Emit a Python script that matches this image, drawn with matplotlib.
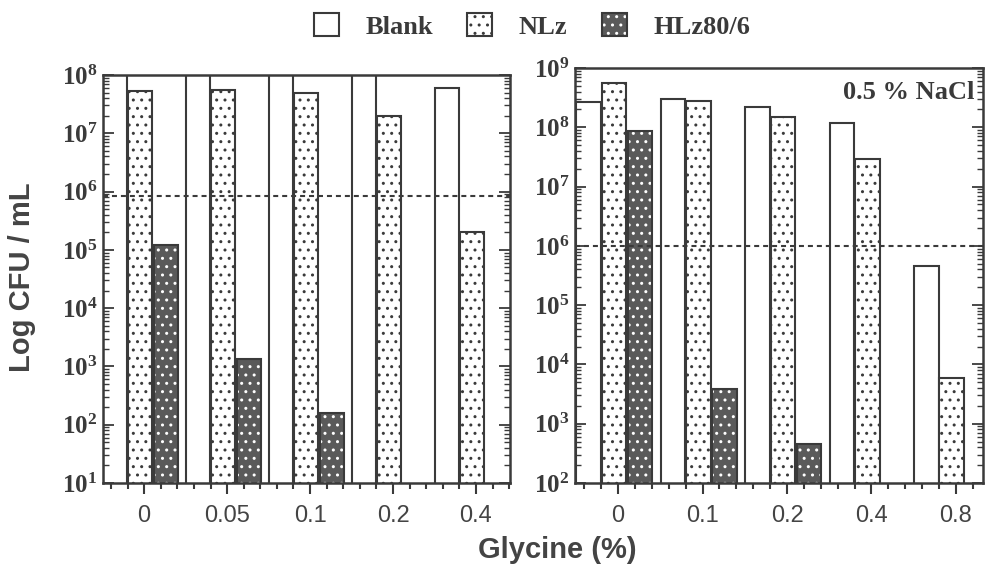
import numpy as np
import matplotlib
matplotlib.use("Agg")
import matplotlib.pyplot as plt
from matplotlib.patches import Patch
from matplotlib.ticker import FixedLocator, AutoMinorLocator, LogLocator, FuncFormatter, NullFormatter

plt.rcParams['mathtext.fontset'] = 'custom'
plt.rcParams['mathtext.rm'] = 'Liberation Serif:bold'
plt.rcParams['mathtext.bf'] = 'Liberation Serif:bold'
plt.rcParams['hatch.linewidth'] = 1.0

# data (CFU / mL); None = no bar
left_groups = ['0', '0.05', '0.1', '0.2', '0.4']
left_blank = [2.5e8, 2.5e8, 2.5e8, 2.5e8, 6.0e7]
left_nlz = [5.4e7, 5.6e7, 4.9e7, 2.0e7, 2.0e5]
left_hlz = [1.2e5, 1.35e3, 1.6e2, None, None]
left_limit = 8.5e5

right_groups = ['0', '0.1', '0.2', '0.4', '0.8']
right_blank = [2.7e8, 3.0e8, 2.2e8, 1.2e8, 4.6e5]
right_nlz = [5.6e8, 2.8e8, 1.5e8, 2.9e7, 6.0e3]
right_hlz = [8.5e7, 3.8e3, 4.6e2, None, None]
right_limit = 1.0e6

series_names = ['Blank', 'NLz', 'HLz80/6']

ink = '#3a3a3a'
dark = '#5a5a5a'
w = 0.29


def draw(ax, groups, blank, nlz, hlz, limit, ylo, yhi, xlim):
    x = np.arange(len(groups))
    ax.bar(x - 0.3, blank, w, facecolor='white', edgecolor=ink, linewidth=1.5)
    ax.bar(x, nlz, w, facecolor='white', edgecolor=ink, linewidth=1.5, hatch='..')
    hx = np.array([xi for xi, v in zip(x, hlz) if v is not None])
    hv = [v for v in hlz if v is not None]
    ax.bar(hx + 0.31, hv, w, facecolor=dark, edgecolor='white', linewidth=0, hatch='..')
    ax.bar(hx + 0.31, hv, w, fill=False, edgecolor=ink, linewidth=1.5)
    ax.axhline(limit, ls=(0, (2.4, 1.9)), lw=1.5, color=ink, zorder=3)

    ax.set_yscale('log')
    ax.set_ylim(ylo, yhi)
    ax.set_xlim(*xlim)
    ax.yaxis.set_major_locator(LogLocator(base=10, numticks=20))
    ax.yaxis.set_minor_locator(LogLocator(base=10, subs=np.arange(2, 10), numticks=100))
    ax.yaxis.set_minor_formatter(NullFormatter())
    ax.yaxis.set_major_formatter(FuncFormatter(
        lambda v, p: r'$\mathbf{10^{%d}}$' % int(round(np.log10(v)))))
    ax.tick_params(axis='y', which='both', direction='in', left=True, right=True,
                   colors=ink, labelsize=18, pad=4, width=1.3)
    ax.tick_params(axis='y', which='major', length=8)
    ax.tick_params(axis='y', which='minor', length=4, width=1.0)

    ax.xaxis.set_major_locator(FixedLocator(x + 0.05))
    ax.set_xticklabels(groups)
    ax.xaxis.set_minor_locator(AutoMinorLocator(5))
    ax.tick_params(axis='x', which='both', direction='out', colors=ink, width=1.5)
    ax.tick_params(axis='x', which='major', length=8, labelsize=17, pad=8)
    ax.tick_params(axis='x', which='minor', length=4)
    for lab in ax.get_xticklabels():
        lab.set_family('Liberation Sans')
        lab.set_color('#444444')
    for s in ax.spines.values():
        s.set_linewidth(1.8)
        s.set_color(ink)


fig = plt.figure(figsize=(9.9, 5.64), dpi=100)
axL = fig.add_axes([103 / 990, 1 - 483 / 564, (510 - 103) / 990, (483 - 75) / 564])
axR = fig.add_axes([575 / 990, 1 - 483 / 564, (983 - 575) / 990, (483 - 68) / 564])

draw(axL, left_groups, left_blank, left_nlz, left_hlz, left_limit, 1e1, 1e8, (-0.446, 4.46))
draw(axR, right_groups, right_blank, right_nlz, right_hlz, right_limit, 1e2, 1e9, (-0.46, 4.37))

axR.text(0.98, 0.942, '0.5 % NaCl', transform=axR.transAxes, ha='right', va='center',
         family='Liberation Serif', weight='bold', fontsize=19, color=ink)

fig.text(22 / 990, 1 - 277 / 564, 'Log CFU / mL', rotation=90, ha='center', va='center',
         family='Liberation Sans', weight='bold', fontsize=21, color='#444444')
fig.text(557 / 990, 1 - 550 / 564, 'Glycine (%)', ha='center', va='center',
         family='Liberation Sans', weight='bold', fontsize=21, color='#444444')

h_blank = Patch(facecolor='white', edgecolor=ink, linewidth=1.5)
h_nlz = Patch(facecolor='white', edgecolor=ink, linewidth=1.5, hatch='..')
h_hlz = (Patch(facecolor=dark, edgecolor='white', linewidth=0, hatch='..'),
         Patch(fill=False, edgecolor=ink, linewidth=1.5))
fig.legend(handles=[h_blank, h_nlz, h_hlz], labels=series_names, loc='center',
           bbox_to_anchor=(532 / 990, 1 - 26 / 564), ncol=3, frameon=False,
           prop={'family': 'Liberation Serif', 'weight': 'bold', 'size': 19},
           labelcolor=ink, handlelength=0.95, handleheight=0.95, handletextpad=1.0,
           columnspacing=1.3)

fig.savefig('out.png', dpi=100)
